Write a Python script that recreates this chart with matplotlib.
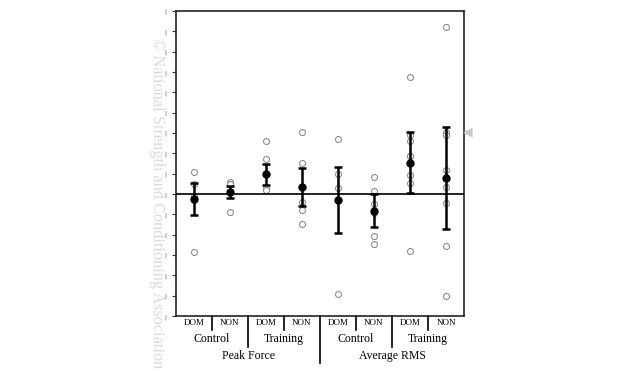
import matplotlib
matplotlib.use("Agg")
import matplotlib.pyplot as plt
import numpy as np

# ---- data ----
conditions = ["DOM", "NON", "DOM", "NON", "DOM", "NON", "DOM", "NON"]
groups = ["Control", "Training", "Control", "Training"]
measures = ["Peak Force", "Average RMS"]

means = [-0.25, 0.08, 0.98, 0.34, -0.30, -0.82, 1.53, 0.80]
sds = [0.80, 0.30, 0.52, 0.93, 1.64, 0.81, 1.50, 2.50]

ind_pf_ctrl_dom = [1.08, 0.50, -0.10, -0.30, -2.85]
ind_pf_ctrl_non = [0.60, 0.50, 0.10, -0.90]
ind_pf_trn_dom = [2.62, 1.72, 0.31, 0.18]
ind_pf_trn_non = [3.04, 1.54, -0.38, -0.77, -1.48]
ind_rms_ctrl_dom = [2.71, 1.00, 0.28, -4.94]
ind_rms_ctrl_non = [0.85, 0.15, -0.50, -0.95, -2.07, -2.46]
ind_rms_trn_dom = [5.73, 2.90, 2.60, 1.88, 1.85, 0.93, 0.55, -2.79]
ind_rms_trn_non = [8.21, 3.07, 2.90, 1.18, 0.36, -0.43, -2.56, -5.00]

individuals = [ind_pf_ctrl_dom, ind_pf_ctrl_non, ind_pf_trn_dom, ind_pf_trn_non,
               ind_rms_ctrl_dom, ind_rms_ctrl_non, ind_rms_trn_dom, ind_rms_trn_non]

ytick_vals = list(range(-6, 10))
watermark = "© National Strength and Conditioning Association"

# ---- figure ----
fig = plt.figure(figsize=(6.4, 3.71), dpi=100)
W, H = 640, 371
ax = fig.add_axes([176 / W, 1 - 316 / H, (464 - 176) / W, (316 - 11) / H])
ax.set_xlim(-0.5, 7.5)
ax.set_ylim(-6, 9)

serif = ["Liberation Serif", "DejaVu Serif"]

x = np.arange(len(conditions))
for xi, vals in zip(x, individuals):
    ax.plot([xi] * len(vals), vals, linestyle="none", marker="o", markersize=4.3,
            markerfacecolor="white", markeredgecolor="#8c8c8c", markeredgewidth=0.8,
            zorder=2)

ax.errorbar(x, means, yerr=sds, fmt="o", color="black", markersize=5,
            elinewidth=1.8, capsize=3, capthick=1.8, zorder=4)

ax.axhline(0, color="black", lw=1.2, zorder=3)

for s in ax.spines.values():
    s.set_linewidth(1.2)
    s.set_color("#222222")

ax.set_xticks([])
ax.set_yticks(ytick_vals)
ax.set_yticklabels(["|"] * len(ytick_vals), fontsize=4, color="#444444")
ax.tick_params(axis="y", direction="out", length=3, width=0.8, pad=4, colors="#333333")
ax.tick_params(axis="y", labelcolor="#444444")

# ---- category labels below ----
trans = ax.get_xaxis_transform()
for xi, lab in zip(x, conditions):
    ax.text(xi, -0.024, lab, transform=trans, ha="center", va="center",
            fontsize=6.5, family=serif, clip_on=False)
for i, g in enumerate(groups):
    ax.text(2 * i + 0.5, -0.074, g, transform=trans, ha="center", va="center",
            fontsize=8.5, family=serif, clip_on=False)
for i, m in enumerate(measures):
    ax.text(4 * i + 1.5, -0.13, m, transform=trans, ha="center", va="center",
            fontsize=8.5, family=serif, clip_on=False)

seps = [(0.5, 0.046), (2.5, 0.046), (4.5, 0.046), (6.5, 0.046),
        (1.5, 0.10), (5.5, 0.10), (3.5, 0.155)]
for sx, depth in seps:
    ax.plot([sx, sx], [0, -depth], transform=trans, color="black", lw=1.2,
            clip_on=False)

# ---- watermark (fit between y=38 and y=368 px) and artefact ----
fig.canvas.draw()
r = fig.canvas.get_renderer()
tmp = fig.text(0, 0, watermark, fontsize=12, family=serif)
w = tmp.get_window_extent(r).width
tmp.remove()
fs = 12 * min(1.0, 328 / w)
fig.text(157 / W, 1 - 38 / H, watermark,
         rotation=-90, rotation_mode="anchor", ha="left", va="center",
         fontsize=fs, family=serif, color="#dadada", zorder=0)

fig.text(468 / W, 1 - 132 / H, "◀", ha="center", va="center", fontsize=9,
         color="#c8c8c8", family="DejaVu Sans")

fig.savefig("out.png", dpi=100)
